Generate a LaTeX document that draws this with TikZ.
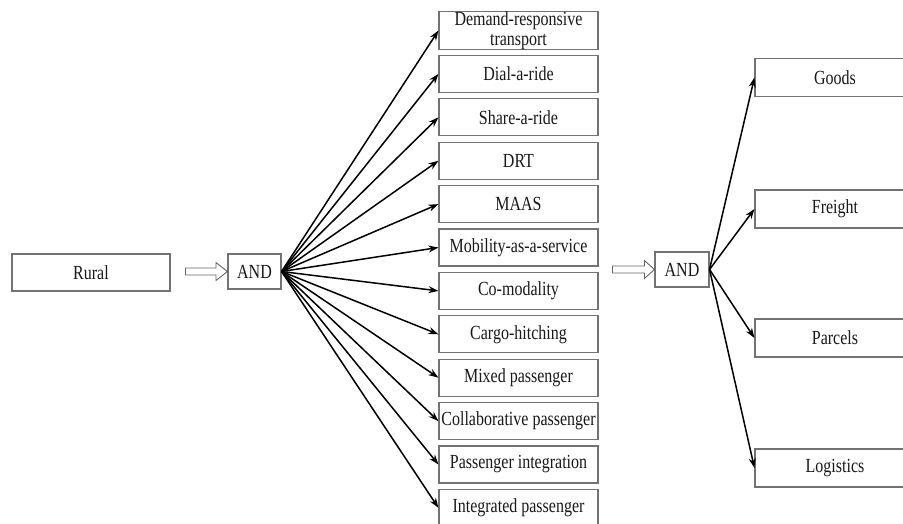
\documentclass[tikz,border=0pt]{standalone}
\usepackage{fontspec}
\setmainfont[FakeStretch=0.8]{Liberation Serif}
\usetikzlibrary{arrows.meta,calc}
\begin{document}
\begin{tikzpicture}[x=1pt,y=-1pt,
  box/.style={draw=black!55,line width=1.1pt,fill=white,inner sep=0pt,
    font=\fontsize{20}{20}\selectfont,text=black!90,align=center},
  midbox/.style={box,minimum width=159pt,minimum height=37pt},
  rbox/.style={box,minimum width=160pt,minimum height=38pt},
  andbox/.style={box,minimum width=53pt,minimum height=35pt},
  conn/.style={line width=1.5pt,-{Stealth[length=10pt,width=7pt]}},
  hollow/.style={draw=black!60,line width=0.9pt,fill=white}]
\useasboundingbox (0,0) rectangle (903,523);
\clip (0,0) rectangle (903,523);
\node[box,minimum width=158pt,minimum height=37pt] (rural) at (91,272.5) {Rural};
\node[andbox] (and1) at (254.5,271.5) {AND};
\node[andbox,minimum width=54pt] (and2) at (682,269.5) {AND};
\foreach \i/\t in {0/{Demand-responsive\\transport},1/Dial-a-ride,2/Share-a-ride,3/DRT,4/MAAS,5/Mobility-as-a-service,6/Co-modality,7/Cargo-hitching,8/Mixed passenger,9/Collaborative passenger,10/Passenger integration,11/Integrated passenger}{
  \node[midbox] (m\i) at (518.5,{30.5+43.4*\i}) {\t};
  \draw[conn] (and1.east) -- (m\i.west);
}
\foreach \i/\t/\y in {1/Goods/77.5,2/Freight/209,3/Parcels/338,4/Logistics/468}{
  \node[rbox] (r\i) at (835,\y) {\t};
  \draw[conn] (and2.east) -- (r\i.west);
}
\draw[hollow] ($(and1.west)+(-42,-3.5)$) -- ++(30.5,0) -- ++(0,-5.5) -- (and1.west) -- ($(and1.west)+(-11.5,9)$) -- ++(0,-5.5) -- ++(-30.5,0) -- cycle;
\draw[hollow] ($(and2.west)+(-42,-3.5)$) -- ++(32,0) -- ++(0,-5.5) -- (and2.west) -- ($(and2.west)+(-10,9)$) -- ++(0,-5.5) -- ++(-32,0) -- cycle;
\end{tikzpicture}
\end{document}
